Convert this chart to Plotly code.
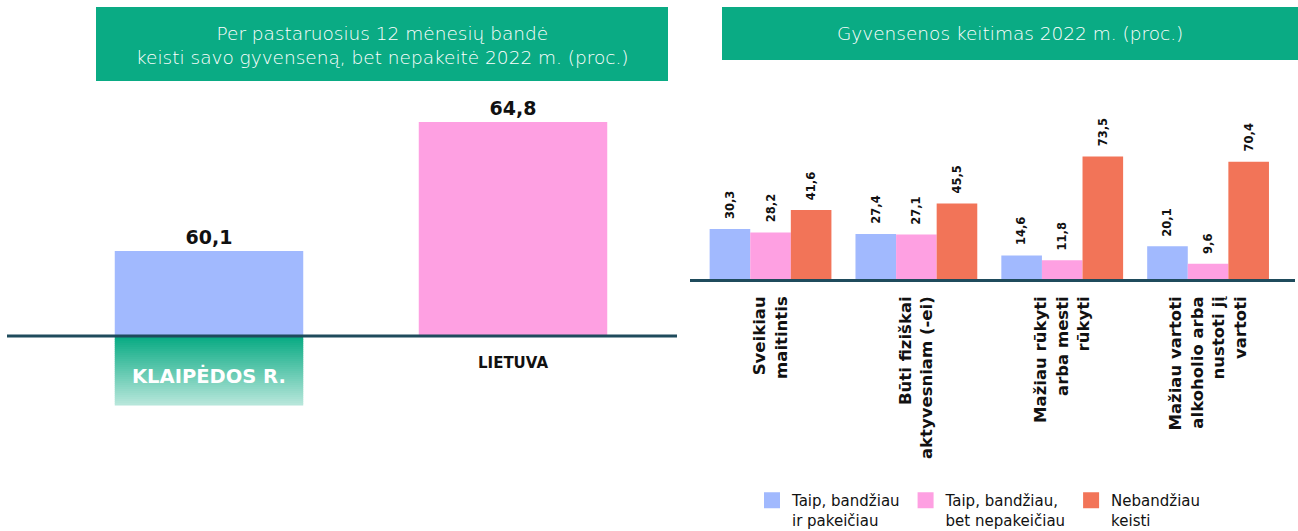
import plotly.graph_objects as go

# ---------------- data ----------------
left_categories = ["KLAIPĖDOS R.", "LIETUVA"]
left_values = [60.1, 64.8]

right_categories = [
    "Sveikiau<br>maitintis",
    "Būti fiziškai<br>aktyvesniam (-ei)",
    "Mažiau rūkyti<br>arba mesti<br>rūkyti",
    "Mažiau vartoti<br>alkoholio arba<br>nustoti jį<br>vartoti",
]
series_names = [
    "Taip, bandžiau<br>ir pakeičiau",
    "Taip, bandžiau,<br>bet nepakeičiau",
    "Nebandžiau<br>keisti",
]
series_tried_changed = [30.3, 27.4, 14.6, 20.1]
series_tried_not_changed = [28.2, 27.1, 11.8, 9.6]
series_not_tried = [41.6, 45.5, 73.5, 70.4]

left_title = "Per pastaruosius 12 mėnesių bandė<br>keisti savo gyvenseną, bet nepakeitė 2022 m. (proc.)"
right_title = "Gyvensenos keitimas 2022 m. (proc.)"

# ---------------- style ----------------
W, H = 1298, 531
BLUE = "#A1B9FE"
PINK = "#FEA0E2"
RED = "#F27458"
GREEN = "#0AAB84"
LINE = "#1F4B5C"
BOLD_FONT = "DejaVu Sans"
LIGHT_FONT = "DejaVu Sans"
series_colors = [BLUE, PINK, RED]
series_values = [series_tried_changed, series_tried_not_changed, series_not_tried]


def px_x(p):
    return p / W


def px_y(p):
    return 1 - p / H


fig = go.Figure()

LEFT_BARGAP = 0.38
RIGHT_BARGAP = 0.165

# left panel bars
fig.add_trace(go.Bar(
    x=left_categories, y=left_values, width=1 - LEFT_BARGAP,
    marker=dict(color=[BLUE, PINK], line=dict(width=0)),
    texttemplate="%{y:.1f}", textposition="outside",
    textfont=dict(family=BOLD_FONT, size=19, color="#111111", weight="bold"),
    cliponaxis=False, showlegend=False, hoverinfo="skip",
    xaxis="x", yaxis="y",
))

# right panel grouped bars
for name, vals, col in zip(series_names, series_values, series_colors):
    fig.add_trace(go.Bar(
        x=right_categories, y=vals, name=name,
        marker=dict(color=col, line=dict(width=0)),
        showlegend=False, xaxis="x2", yaxis="y2",
    ))
    # legend proxy (square swatch)
    fig.add_trace(go.Scatter(
        x=[None], y=[None], mode="markers", name=name,
        marker=dict(symbol="square", size=16, color=col),
        showlegend=True, xaxis="x2", yaxis="y2",
    ))

fig.update_layout(
    width=W, height=H, autosize=False,
    margin=dict(l=0, r=0, t=0, b=0, pad=0, autoexpand=False),
    paper_bgcolor="white", plot_bgcolor="white",
    separators=",.",
    barmode="group",
    bargap=RIGHT_BARGAP,
    font=dict(family=BOLD_FONT, color="#111111"),
    xaxis=dict(domain=[px_x(57), px_x(665)], showticklabels=False, showgrid=False,
               zeroline=False, showline=False, ticks="", fixedrange=True),
    yaxis=dict(domain=[px_y(336), px_y(89)], range=[57, 66], visible=False, fixedrange=True),
    xaxis2=dict(domain=[px_x(697.6), px_x(1281)], anchor="y2", showgrid=False, zeroline=False,
                showline=False, ticks="", tickangle=-90, ticklabelstandoff=12,
                tickfont=dict(family=BOLD_FONT, size=16.5, color="#111111", weight="bold")),
    yaxis2=dict(domain=[px_y(280), px_y(145.6)], range=[0, 80], visible=False, anchor="x2"),
    legend=dict(orientation="h", x=px_x(752), xanchor="left", y=px_y(484), yanchor="top",
                valign="top", font=dict(family=LIGHT_FONT, size=15, color="#111111"),
                itemclick=False, itemdoubleclick=False, tracegroupgap=0,
                bgcolor="rgba(0,0,0,0)"),
)

shapes = []
annotations = []

# title boxes
shapes.append(dict(type="rect", xref="paper", yref="paper", x0=px_x(96), x1=px_x(668),
                   y0=px_y(81), y1=px_y(7), fillcolor=GREEN, line=dict(width=0), layer="below"))
shapes.append(dict(type="rect", xref="paper", yref="paper", x0=px_x(722), x1=px_x(1298),
                   y0=px_y(60), y1=px_y(7), fillcolor=GREEN, line=dict(width=0), layer="below"))
annotations.append(dict(text=left_title, xref="paper", yref="paper", x=px_x(382), y=px_y(45),
                        xanchor="center", yanchor="middle", showarrow=False, align="center",
                        font=dict(family=LIGHT_FONT, size=18.5, color="white", weight=200)))
annotations.append(dict(text=right_title, xref="paper", yref="paper", x=px_x(1010), y=px_y(33.5),
                        xanchor="center", yanchor="middle", showarrow=False,
                        font=dict(family=LIGHT_FONT, size=18.5, color="white", weight=200)))

# gradient label box under first left bar
half = (1 - LEFT_BARGAP) / 2
top_rgb = (10, 171, 132)
bot_rgb = (182, 230, 218)
y_top, y_bot = 337, 405
n = 34
for i in range(n):
    t = i / (n - 1)
    c = tuple(round(a + (b - a) * t) for a, b in zip(top_rgb, bot_rgb))
    ya = y_top + (y_bot - y_top) * i / n
    yb = y_top + (y_bot - y_top) * (i + 1) / n + 0.6
    shapes.append(dict(type="rect", xref="x", yref="paper", x0=-half, x1=half,
                       y0=px_y(yb), y1=px_y(ya), fillcolor="rgb(%d,%d,%d)" % c,
                       line=dict(width=0), layer="below"))

# left category labels
annotations.append(dict(text=left_categories[0], xref="x", yref="paper", x=left_categories[0],
                        y=px_y(376), showarrow=False, xanchor="center", yanchor="middle",
                        font=dict(family=BOLD_FONT, size=19.5, color="white", weight="bold")))
annotations.append(dict(text=left_categories[1], xref="x", yref="paper", x=left_categories[1],
                        y=px_y(363), showarrow=False, xanchor="center", yanchor="middle",
                        font=dict(family=BOLD_FONT, size=15, color="#111111", weight="bold")))

# baselines
shapes.append(dict(type="line", xref="paper", yref="paper", x0=px_x(7), x1=px_x(677),
                   y0=px_y(336), y1=px_y(336), line=dict(color=LINE, width=3), layer="above"))
shapes.append(dict(type="line", xref="paper", yref="paper", x0=px_x(690), x1=px_x(1295),
                   y0=px_y(280.5), y1=px_y(280.5), line=dict(color=LINE, width=3), layer="above"))

# right value labels (rotated)
bar_px = (1281 - 697.6) / len(right_categories) * (1 - RIGHT_BARGAP) / 3
for si, vals in enumerate(series_values):
    for cat, v in zip(right_categories, vals):
        annotations.append(dict(
            text=f"{v:.1f}".replace(".", ","), xref="x2", yref="y2", x=cat, y=v,
            xshift=(si - 1) * bar_px, yshift=8, textangle=-90, showarrow=False,
            xanchor="center", yanchor="bottom",
            font=dict(family=BOLD_FONT, size=11.5, color="#111111", weight="bold")))

fig.update_layout(shapes=shapes, annotations=annotations)
fig.write_html("out.html")
